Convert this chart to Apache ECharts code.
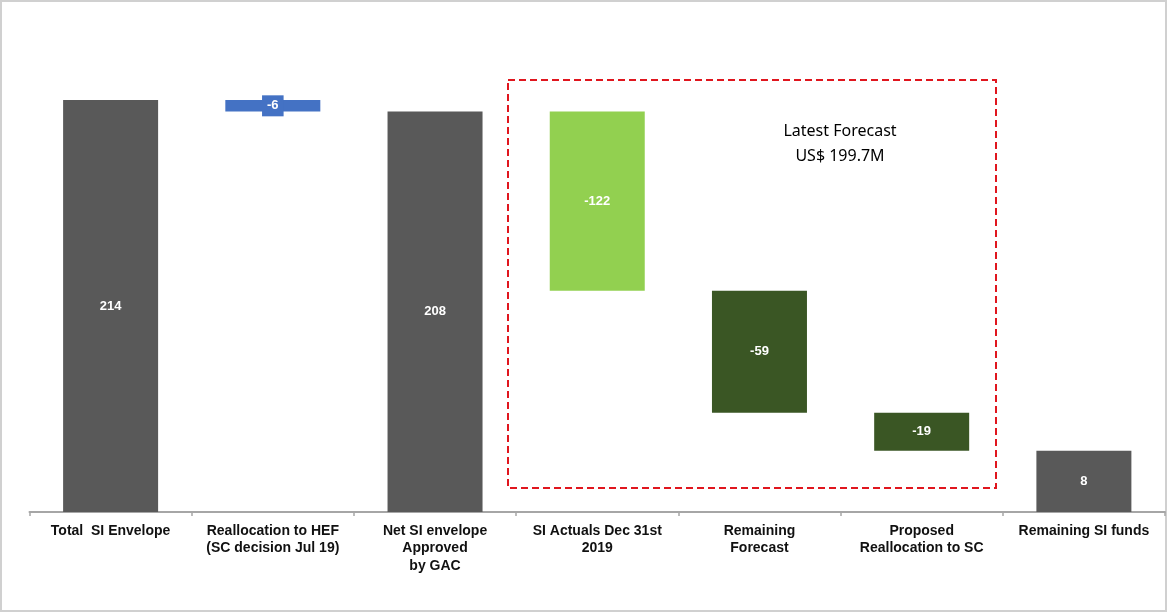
<!DOCTYPE html>
<html><head><meta charset="utf-8">
<script src="https://cdn.jsdelivr.net/npm/echarts@6/dist/echarts.min.js"></script>
<style>html,body{margin:0;padding:0;background:#fff}#c{width:1168px;height:613px}</style>
</head><body><div id="c"></div>
<script>
// ---- data ----
const categories = [
  'Total  SI Envelope',
  'Reallocation to HEF\n(SC decision Jul 19)',
  'Net SI envelope\nApproved\nby GAC',
  'SI Actuals Dec 31st\n2019',
  'Remaining\nForecast',
  'Proposed\nReallocation to SC',
  'Remaining SI funds'
];
const valueLabels = ['214', '-6', '208', '-122', '-59', '-19', '8'];
// bar extents as they are drawn in the reference (the original drawing is not to scale)
const barLow  = [0, 208, 0, 115, 51.6, 31.8, 0];
const barHigh = [214, 214, 208, 208, 115, 51.6, 31.8];
const annotationLines = ['Latest Forecast', 'US$ 199.7M'];

// ---- styling ----
const kindOf = ['total', 'realloc', 'total', 'actual', 'forecast', 'forecast', 'total'];
const colorByKind = { total: '#595959', realloc: '#4472C4', actual: '#92D050', forecast: '#3A5624' };

const chart = echarts.init(document.getElementById('c'), null, { renderer: 'canvas' });

const baseData = barLow.slice();
const spanData = barHigh.map((h, i) => {
  const item = {
    value: +(h - barLow[i]).toFixed(2),
    itemStyle: { color: colorByKind[kindOf[i]] }
  };
  if (kindOf[i] === 'realloc') {
    item.label = { backgroundColor: '#4472C4', padding: [4, 5, 4, 5] };
  }
  return item;
});

chart.setOption({
  animation: false,
  backgroundColor: '#ffffff',
  grid: { left: 29.5, right: 3, top: 50, bottom: 101, containLabel: false },
  xAxis: {
    type: 'category',
    data: categories,
    axisLine: { lineStyle: { color: '#a6a6a6', width: 2 } },
    axisTick: { show: true, length: 4, interval: 0, lineStyle: { color: '#a6a6a6', width: 1.5 } },
    axisLabel: {
      interval: 0, color: '#111', fontFamily: 'Liberation Sans, Arial, sans-serif',
      fontWeight: 'bold', fontSize: 14, lineHeight: 17.5, margin: 10
    },
    splitLine: { show: false }
  },
  yAxis: { type: 'value', min: 0, max: 240, show: false },
  series: [
    {
      type: 'bar', stack: 'w', data: baseData, barWidth: 95,
      itemStyle: { color: 'transparent' }, silent: true
    },
    {
      type: 'bar', stack: 'w', data: spanData, barWidth: 95,
      label: {
        show: true, position: 'inside', color: '#ffffff',
        fontFamily: 'Liberation Sans, Arial, sans-serif', fontWeight: 'bold', fontSize: 13,
        formatter: p => valueLabels[p.dataIndex]
      },
      emphasis: { disabled: true }
    }
  ],
  graphic: [
    {
      type: 'rect', silent: true, z: -1,
      shape: { x: 1, y: 1, width: 1165, height: 610 },
      style: { fill: 'none', stroke: '#d0d0d0', lineWidth: 2 }
    },
    {
      type: 'rect', silent: true, z: 10,
      shape: { x: 508, y: 80, width: 488, height: 408 },
      style: { fill: 'none', stroke: '#E0161E', lineWidth: 2, lineDash: [7, 4] }
    },
    {
      type: 'text', silent: true, z: 10,
      style: {
        text: annotationLines.join('\n'), x: 840, y: 144,
        align: 'center', verticalAlign: 'middle',
        fontFamily: 'Noto Sans, sans-serif', fontSize: 16, lineHeight: 25, fill: '#000'
      }
    }
  ]
});
</script>
</body></html>
